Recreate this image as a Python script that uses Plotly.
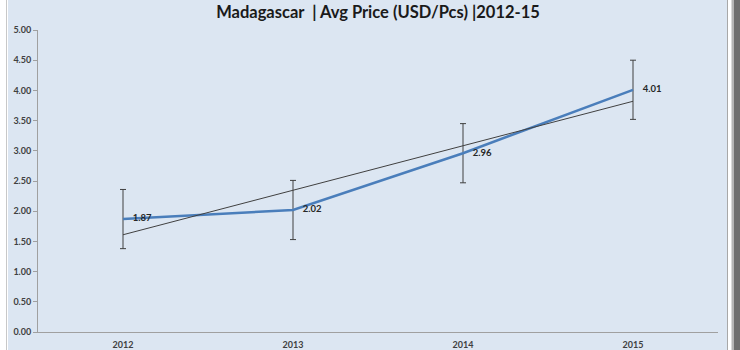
import plotly.graph_objects as go

# Average price per piece, Madagascar
years = ["2012", "2013", "2014", "2015"]
avg_price = [1.87, 2.02, 2.96, 4.01]
std_error = [0.49, 0.49, 0.49, 0.49]
trend = [1.61, 2.35, 3.08, 3.82]
y_ticks = [0, 0.5, 1, 1.5, 2, 2.5, 3, 3.5, 4, 4.5, 5]

W, H = 740, 350
L, R, T, B = 38, 22, 30, 18
pw, ph = W - L - R, H - T - B


def px(x):
    return (x - L) / pw


def py(y):
    return (H - B - y) / ph


BG = "#dce6f2"
FONT = "Lato"

fig = go.Figure()

fig.add_trace(go.Scatter(
    x=years, y=avg_price,
    mode="lines+markers+text",
    line=dict(color="#4a7ebb", width=2.5),
    marker=dict(size=14, color="rgba(0,0,0,0)"),
    texttemplate="%{y:.2f}",
    textposition="middle right",
    textfont=dict(family=FONT, size=9.5, color="#262626", weight="bold"),
    error_y=dict(type="data", array=std_error, visible=True,
                 color="#404040", thickness=1, width=3),
    showlegend=False, hoverinfo="skip",
))

fig.add_trace(go.Scatter(
    x=years, y=trend, mode="lines",
    line=dict(color="#404040", width=1),
    showlegend=False, hoverinfo="skip",
))

shapes = [
    # chart area background
    dict(type="rect", xref="paper", yref="paper", x0=px(8), x1=px(727),
         y0=py(H), y1=py(0), fillcolor=BG, line_width=0, layer="below"),
    # outer frame
    dict(type="line", xref="paper", yref="paper", x0=px(6.5), x1=px(6.5),
         y0=py(H), y1=py(0), line=dict(color="#c8c8c8", width=1)),
    dict(type="line", xref="paper", yref="paper", x0=px(727.5), x1=px(727.5),
         y0=py(H), y1=py(0), line=dict(color="#a8a8a8", width=1)),
    dict(type="rect", xref="paper", yref="paper", x0=px(731.5), x1=px(734),
         y0=py(H), y1=py(0), fillcolor="#b4b4b4", line_width=0),
    dict(type="rect", xref="paper", yref="paper", x0=px(734), x1=px(740),
         y0=py(H), y1=py(0), fillcolor="#6e6e6e", line_width=0),
]

fig.update_layout(
    width=W, height=H,
    margin=dict(l=L, r=R, t=T, b=B, pad=0, autoexpand=False),
    paper_bgcolor="white",
    plot_bgcolor="rgba(0,0,0,0)",
    shapes=shapes,
    title=dict(
        text="Madagascar\u00a0 | Avg Price (USD/Pcs) |2012-15",
        x=0.5, xref="paper", xanchor="center",
        y=1 - 12 / H, yref="container", yanchor="middle",
        font=dict(family=FONT, size=16.5, color="#1a1a1a", weight="bold"),
        automargin=False,
    ),
    xaxis=dict(
        type="category", range=[-0.5, 3.5], automargin=False,
        showline=True, linecolor="#a0a0a0", linewidth=1,
        showgrid=False, zeroline=False, ticks="", ticklabelstandoff=4,
        tickfont=dict(family=FONT, size=9, color="#404040", weight="bold"),
    ),
    yaxis=dict(
        range=[0, 5], tickvals=y_ticks, tickformat=".2f", automargin=False,
        showline=True, linecolor="#a0a0a0", linewidth=1,
        showgrid=False, zeroline=False,
        ticks="outside", ticklen=4, tickcolor="#a0a0a0",
        tickfont=dict(family=FONT, size=9, color="#404040", weight="bold"),
    ),
)

fig.write_html("out.html")
